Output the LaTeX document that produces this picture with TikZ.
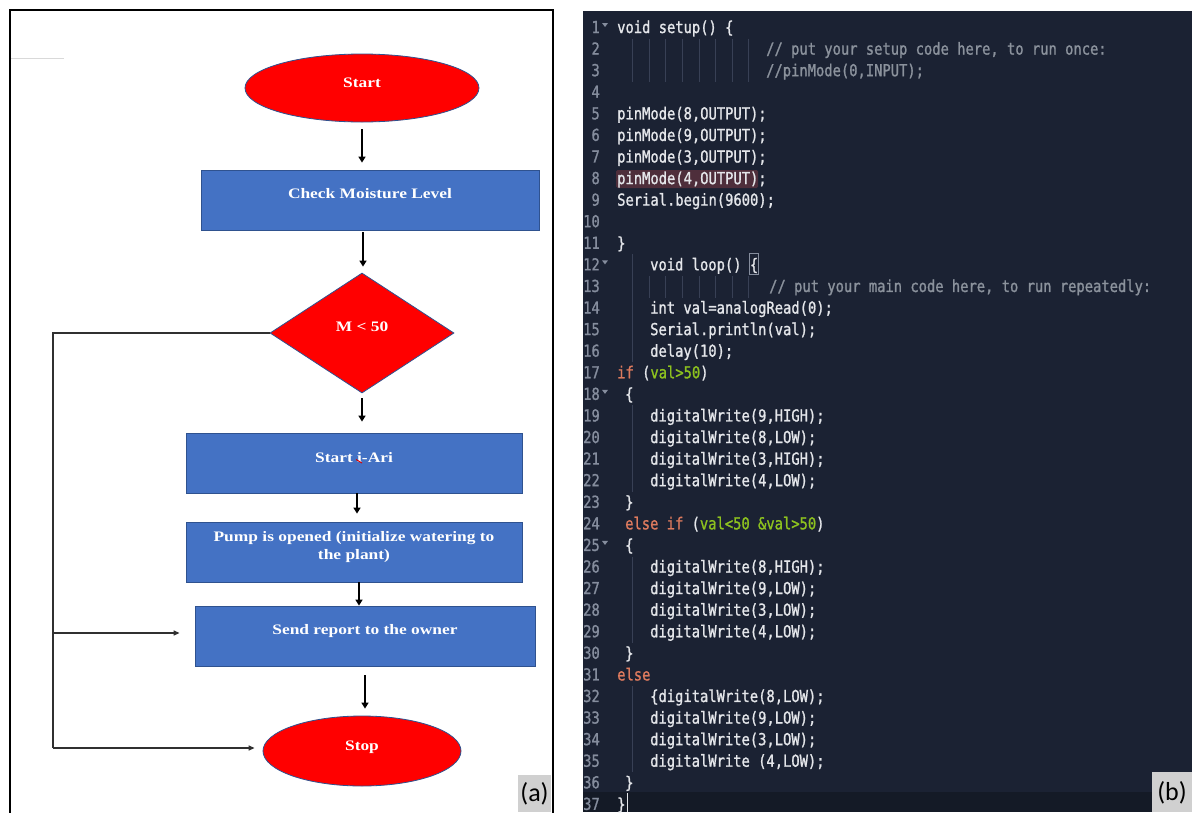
\documentclass[tikz,border=0pt]{standalone}
\usepackage{fontspec}
\usetikzlibrary{shapes.geometric,arrows.meta}
\newfontfamily\fcfont[FakeStretch=1.2]{Liberation Serif}
\newfontfamily\codefont[FakeStretch=0.836,FakeBold=1.2]{DejaVu Sans Mono}
\newfontfamily\tagfont{Carlito}
\definecolor{boxblue}{HTML}{4472C4}
\definecolor{edgeblue}{HTML}{2F528F}
\definecolor{termred}{HTML}{FF0000}
\definecolor{looplc}{HTML}{303030}
\definecolor{edbg}{HTML}{1B2233}
\definecolor{edlast}{HTML}{141A26}
\definecolor{edtext}{HTML}{E4E6EA}
\definecolor{ednum}{HTML}{858D9D}
\definecolor{edcom}{HTML}{8B929C}
\definecolor{edkw}{HTML}{DD7A5E}
\definecolor{edstr}{HTML}{8DC21F}
\definecolor{edmark}{HTML}{4E2E3B}
\definecolor{edguide}{HTML}{384055}
\definecolor{tagbg}{HTML}{D0D0D0}
% one line of the sketch: line number, left edge, content
\newcommand\codeln[3]{\node[codetxt] (ln#1) at (#2,{33+(#1-1)*21.58}) {#3};}
\begin{document}
\begin{tikzpicture}[x=1pt,y=-1pt,
  term/.style={ellipse, draw=edgeblue, line width=0.8pt, fill=termred, inner sep=0pt},
  proc/.style={rectangle, draw=edgeblue, line width=0.8pt, fill=boxblue, inner sep=0pt, minimum height=60pt},
  decis/.style={diamond, draw=edgeblue, line width=0.8pt, fill=termred, inner sep=0pt, minimum width=184pt, minimum height=120pt},
  ftxt/.style={text=white, font=\fcfont\bfseries\fontsize{14.5pt}{18pt}\selectfont, align=center, inner sep=0pt},
  arr/.style={draw=black, line width=1.6pt, -{Triangle[length=6pt,width=7pt]}},
  loopl/.style={draw=looplc, line width=1.3pt},
  looparr/.style={loopl, -{Triangle[length=6pt,width=5pt]}},
  codetxt/.style={anchor=base west, inner sep=0pt, text=edtext, font=\codefont\fontsize{16.5pt}{20pt}\selectfont},
  lnum/.style={anchor=base east, inner sep=0pt, text=ednum, font=\codefont\fontsize{16.5pt}{20pt}\selectfont},
  guide/.style={draw=edguide, line width=0.8pt},
  tag/.style={inner sep=0pt, text=black, font=\tagfont\fontsize{26pt}{30pt}\selectfont}
]
\useasboundingbox (0,0) rectangle (1192,812);
\clip (0,0) rectangle (1192,812);
\fill[white] (0,0) rectangle (1192,812);

% ---------- flowchart panel ----------
\draw[line width=2pt] (10,820) -- (10,10) -- (553,10) -- (553,820);
\draw[black!15, line width=1pt] (11,58) -- (64,58);

\node[term, minimum width=234pt, minimum height=68pt] (start) at (362,88) {};
\node[proc, minimum width=338pt] (chk) at (370,200) {};
\node[decis] (dec) at (362,333) {};
\node[proc, minimum width=336pt] (ari) at (354,463) {};
\node[proc, minimum width=336pt] (pump) at (354,552) {};
\node[proc, minimum width=340pt] (send) at (365,636) {};
\node[term, minimum width=198pt, minimum height=70pt] (stop) at (362,751) {};

\node[ftxt] (start-t) at ([yshift=5pt]start.center) {Start};
\node[ftxt] (chk-t) at ([yshift=6pt]chk.center) {Check Moisture Level};
\node[ftxt] (dec-t) at ([yshift=6pt]dec.center) {M < 50};
\node[ftxt] (ari-t) at ([yshift=5pt]ari.center) {Start i-Ari};
\node[ftxt] (pump-t) at ([yshift=5pt]pump.center) {Pump is opened (initialize watering to\\the plant)};
\node[ftxt] (send-t) at ([yshift=5pt]send.center) {Send report to the owner};
\node[ftxt] (stop-t) at ([yshift=4pt]stop.center) {Stop};
% spell-check mark under the "i"
\draw[red!85!black, line width=1pt] (356,459.5) -- (362,463);

\draw[arr, shorten <=7pt, shorten >=7pt] (start.south) -- (start.south |- chk.north);
\draw[arr, shorten <=2pt, shorten >=6pt] ([xshift=-7pt]chk.south) -- ([xshift=-7pt]chk.south |- dec.north);
\draw[arr, shorten <=5pt, shorten >=11pt] (dec.south) -- (dec.south |- ari.north);
\draw[arr, shorten >=8pt] ([xshift=3pt]ari.south) -- ([xshift=3pt]ari.south |- pump.north);
\draw[arr] ([xshift=5pt]pump.south) -- ([xshift=5pt]pump.south |- send.north);
\draw[arr, shorten <=9pt, shorten >=7pt] (send.south) -- (send.south |- stop.north);

\coordinate (lt) at (53,333);
\coordinate (lj) at (53,633);
\coordinate (lb) at (53,748);
\draw[loopl] (dec.west) -- (lt) -- (lb);
\draw[looparr, shorten >=15pt] (lj) -- (lj -| send.west);
\draw[looparr, shorten >=8pt] (lb) -- (lb -| stop.west);

\fill[tagbg] (518,775) rectangle (551,812);
\node[tag] (tag-a) at (534.5,794) {(a)};

% ---------- code panel ----------
\fill[edbg] (583,11) rectangle (1192,812);
\fill[edlast] (583,792) rectangle (1192,812);
\fill[edmark, rounded corners=1.5pt] (616,170) rectangle (758,188);
\draw[ednum, line width=0.6pt] (749.5,253) rectangle (758,274);

% indentation guides
\foreach \i in {0,...,7} {\draw[guide] ({632.5+16.6*\i},38.6) -- ({632.5+16.6*\i},81.8);}
\foreach \i in {1,...,7} {\draw[guide] ({632.5+16.6*\i},276) -- ({632.5+16.6*\i},297.6);}
\draw[guide] (632.5,254.4) -- (632.5,362.3);
\draw[guide] (632.5,405.4) -- (632.5,491.8);
\draw[guide] (632.5,556.5) -- (632.5,642.8);
\draw[guide] (632.5,686) -- (632.5,772.3);

% fold markers
\foreach \k in {1,12,18,25} {\fill[ednum] (602,{33+(\k-1)*21.58-10}) -- ++(6,0) -- ++(-3,4) -- cycle;}

% line numbers
\foreach \k in {1,...,37} {\node[lnum] (num\k) at (600,{33+(\k-1)*21.58}) {\k};}

\codeln{1}{617}{void setup() \{}
\codeln{2}{766}{\textcolor{edcom}{// put your setup code here, to run once:}}
\codeln{3}{766}{\textcolor{edcom}{//pinMode(0,INPUT);}}
\codeln{5}{617}{pinMode(8,OUTPUT);}
\codeln{6}{617}{pinMode(9,OUTPUT);}
\codeln{7}{617}{pinMode(3,OUTPUT);}
\codeln{8}{617}{pinMode(4,OUTPUT);}
\codeln{9}{617}{Serial.begin(9600);}
\codeln{11}{617}{\}}
\codeln{12}{650}{void loop() \{}
\codeln{13}{769}{\textcolor{edcom}{// put your main code here, to run repeatedly:}}
\codeln{14}{650}{int val=analogRead(0);}
\codeln{15}{650}{Serial.println(val);}
\codeln{16}{650}{delay(10);}
\codeln{17}{617}{\textcolor{edkw}{if} (\textcolor{edstr}{val>50})}
\codeln{18}{625}{\{}
\codeln{19}{650}{digitalWrite(9,HIGH);}
\codeln{20}{650}{digitalWrite(8,LOW);}
\codeln{21}{650}{digitalWrite(3,HIGH);}
\codeln{22}{650}{digitalWrite(4,LOW);}
\codeln{23}{625}{\}}
\codeln{24}{625}{\textcolor{edkw}{else if} (\textcolor{edstr}{val<50 \&val>50})}
\codeln{25}{625}{\{}
\codeln{26}{650}{digitalWrite(8,HIGH);}
\codeln{27}{650}{digitalWrite(9,LOW);}
\codeln{28}{650}{digitalWrite(3,LOW);}
\codeln{29}{650}{digitalWrite(4,LOW);}
\codeln{30}{625}{\}}
\codeln{31}{617}{\textcolor{edkw}{else}}
\codeln{32}{650}{\{digitalWrite(8,LOW);}
\codeln{33}{650}{digitalWrite(9,LOW);}
\codeln{34}{650}{digitalWrite(3,LOW);}
\codeln{35}{650}{digitalWrite (4,LOW);}
\codeln{36}{625}{\}}
\codeln{37}{617}{\}}
\draw[edtext, line width=0.8pt] (627,793) -- (627,812);

\fill[tagbg] (1152,772) rectangle (1192,812);
\node[tag] (tag-b) at (1172,793) {(b)};
\end{tikzpicture}
\end{document}
